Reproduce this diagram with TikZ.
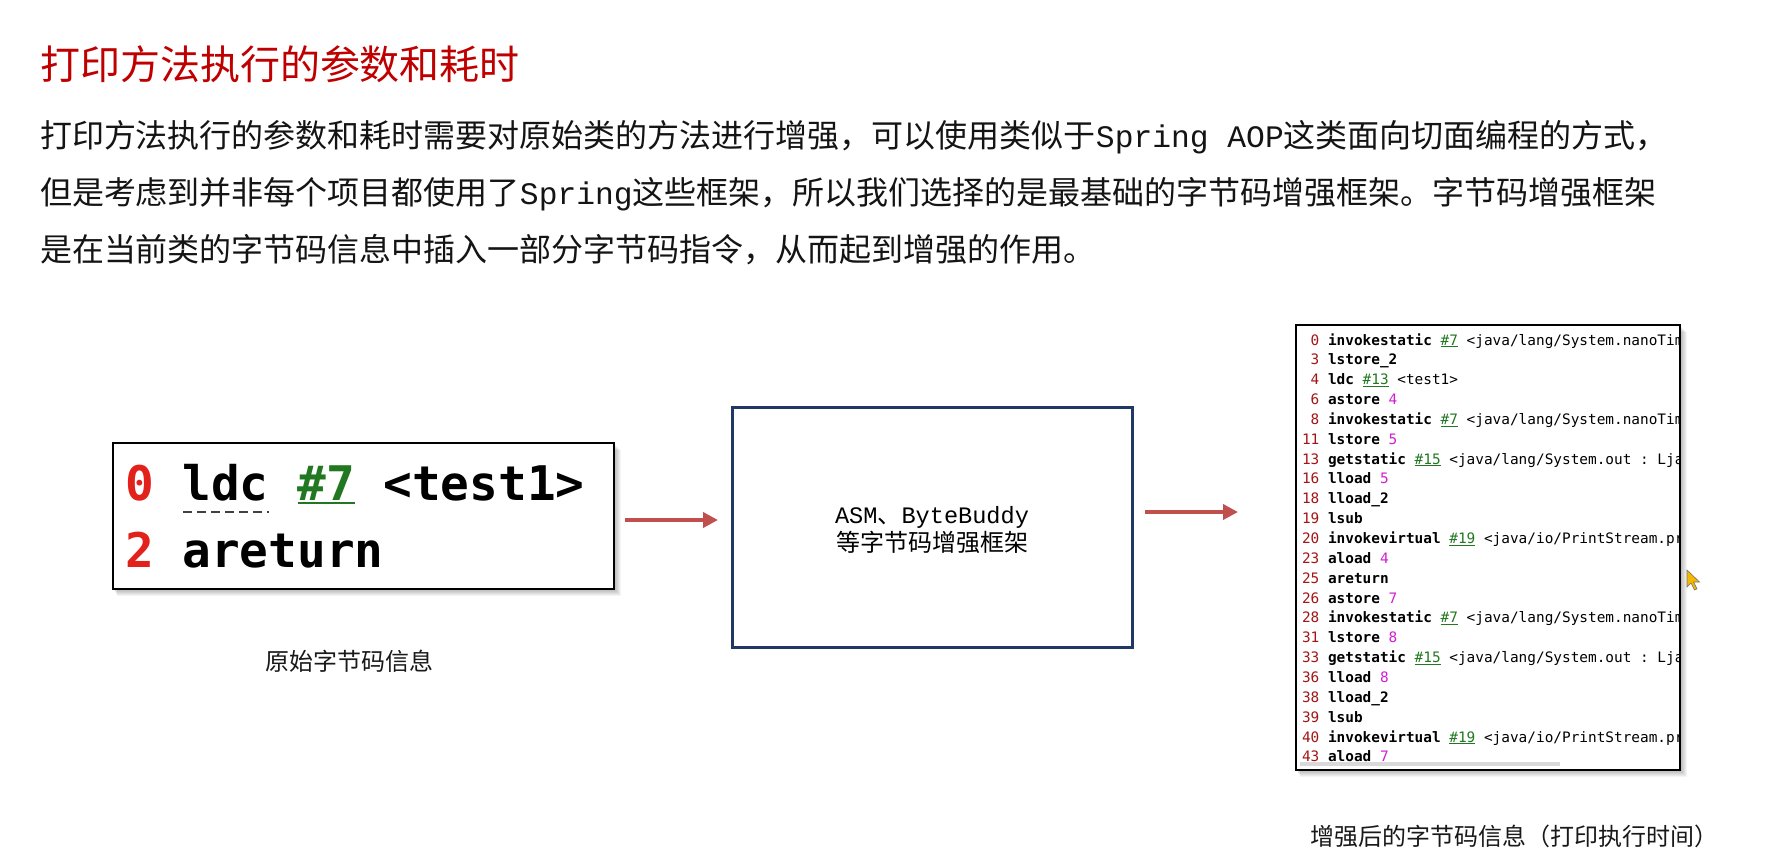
\documentclass[tikz,border=0pt]{standalone}
\usepackage{fontspec}
\setmainfont{Noto Sans CJK SC}
\newfontfamily\monof{Liberation Mono}
\newfontfamily\codef{DejaVu Sans Mono}
\usetikzlibrary{arrows.meta}
\definecolor{titlered}{HTML}{C00000}
\definecolor{arrowred}{HTML}{C0504D}
\definecolor{navy}{HTML}{1F3864}
\definecolor{numred}{HTML}{A31515}
\definecolor{zerored}{HTML}{E3211B}
\definecolor{hashgreen}{HTML}{217821}
\definecolor{opmag}{HTML}{D21DD2}
\definecolor{curyellow}{HTML}{F5B700}
\newcommand\nm[1]{\textcolor{numred}{#1}}
\newcommand\ins[1]{{\bfseries #1}}
\newcommand\rf[1]{\textcolor{hashgreen}{\setbox0=\hbox{\#{}#1}\rlap{\rule[-2.2pt]{\wd0}{1.1pt}}\box0}}
\newcommand\op[1]{\textcolor{opmag}{#1}}
\tikzset{
  body/.style={anchor=base west, text=black!92, font=\fontsize{32}{38}\selectfont},
  caption/.style={anchor=base west, text=black!90, font=\fontsize{24}{28}\selectfont},
  codeline/.style={anchor=base west, font=\codef\fontsize{14.4}{17}\selectfont},
  bigcode/.style={anchor=base west, font=\codef\bfseries\fontsize{47.7}{52}\selectfont},
  arr/.style={draw=arrowred, line width=4.5pt, -{Triangle[length=15pt,width=15pt]}},
}
\begin{document}
\begin{tikzpicture}[x=1pt,y=-1pt, every node/.style={inner sep=0pt, outer sep=0pt}]
\path[use as bounding box, fill=white] (0,0) rectangle (1773,855);

% title and paragraph
\node[anchor=base west, text=titlered, font=\fontsize{40}{48}\selectfont] (title) at (40,79) {打印方法执行的参数和耗时};
\node[body] (p1) at (40,147) {打印方法执行的参数和耗时需要对原始类的方法进行增强，可以使用类似于{\monof\fontsize{31.3}{38}\selectfont Spring AOP}这类面向切面编程的方式，};
\node[body] (p2) at (40,204) {但是考虑到并非每个项目都使用了{\monof\fontsize{31.3}{38}\selectfont Spring}这些框架，所以我们选择的是最基础的字节码增强框架。字节码增强框架};
\node[body] (p3) at (40,261) {是在当前类的字节码信息中插入一部分字节码指令，从而起到增强的作用。};

% left box (original bytecode)
\foreach \k in {1,...,7} {\fill[black, opacity=0.045] (113+\k*0.6,443+\k) rectangle (614+\k,589+\k);}
\node[draw=black, line width=2.5pt, fill=white, minimum width=501pt, minimum height=146pt] (orig) at (363.5,516) {};
\node[bigcode] (o1) at (125,500) {\textcolor{zerored}{0}~ldc~\textcolor{hashgreen}{\#7}~<test1>};
\node[bigcode] (o2) at (125,567) {\textcolor{zerored}{2}~areturn};
\draw[black!75, line width=2pt, dash pattern=on 9pt off 5pt] (o1.base west) ++(58,12) -- ++(86,0);
\draw[hashgreen, line width=2.6pt] (o1.base west) ++(173,3) -- ++(57,0);
\node[caption] (cap1) at (265,670) {原始字节码信息};

% middle box
\node[draw=navy, line width=3pt, fill=white, minimum width=400pt, minimum height=240pt] (asm) at (932,527) {};
\node[anchor=base, font=\fontsize{24}{28}\selectfont] (asm1) at (932,523) {{\monof\fontsize{23.6}{28}\selectfont ASM}、{\monof\fontsize{23.6}{28}\selectfont ByteBuddy}};
\node[anchor=base, font=\fontsize{24}{28}\selectfont] (asm2) at (932,551) {等字节码增强框架};

% right box (enhanced bytecode)
\foreach \k in {1,...,7} {\fill[black, opacity=0.045] (1296+\k*0.6,325+\k) rectangle (1680+\k,770+\k);}
\node[fill=white, minimum width=384pt, minimum height=445pt] (enh) at (1488,547.5) {};
\begin{scope}
\clip (1297,326) rectangle (1679,768);
\node[codeline] (c0) at (1302,345) {\nm{~0}~\ins{invokestatic}~\rf{7}~<java/lang/System.nanoTim};
\node[codeline] (c1) at (1302,364.85) {\nm{~3}~\ins{lstore\_2}};
\node[codeline] (c2) at (1302,384.7) {\nm{~4}~\ins{ldc}~\rf{13}~<test1>};
\node[codeline] (c3) at (1302,404.55) {\nm{~6}~\ins{astore}~\op{4}};
\node[codeline] (c4) at (1302,424.4) {\nm{~8}~\ins{invokestatic}~\rf{7}~<java/lang/System.nanoTim};
\node[codeline] (c5) at (1302,444.25) {\nm{11}~\ins{lstore}~\op{5}};
\node[codeline] (c6) at (1302,464.1) {\nm{13}~\ins{getstatic}~\rf{15}~<java/lang/System.out~:~Ljav};
\node[codeline] (c7) at (1302,483.95) {\nm{16}~\ins{lload}~\op{5}};
\node[codeline] (c8) at (1302,503.8) {\nm{18}~\ins{lload\_2}};
\node[codeline] (c9) at (1302,523.65) {\nm{19}~\ins{lsub}};
\node[codeline] (c10) at (1302,543.5) {\nm{20}~\ins{invokevirtual}~\rf{19}~<java/io/PrintStream.pri};
\node[codeline] (c11) at (1302,563.35) {\nm{23}~\ins{aload}~\op{4}};
\node[codeline] (c12) at (1302,583.2) {\nm{25}~\ins{areturn}};
\node[codeline] (c13) at (1302,603.05) {\nm{26}~\ins{astore}~\op{7}};
\node[codeline] (c14) at (1302,622.9) {\nm{28}~\ins{invokestatic}~\rf{7}~<java/lang/System.nanoTim};
\node[codeline] (c15) at (1302,642.75) {\nm{31}~\ins{lstore}~\op{8}};
\node[codeline] (c16) at (1302,662.6) {\nm{33}~\ins{getstatic}~\rf{15}~<java/lang/System.out~:~Ljav};
\node[codeline] (c17) at (1302,682.45) {\nm{36}~\ins{lload}~\op{8}};
\node[codeline] (c18) at (1302,702.3) {\nm{38}~\ins{lload\_2}};
\node[codeline] (c19) at (1302,722.15) {\nm{39}~\ins{lsub}};
\node[codeline] (c20) at (1302,742) {\nm{40}~\ins{invokevirtual}~\rf{19}~<java/io/PrintStream.pri};
\node[codeline] (c21) at (1302,761.85) {\nm{43}~\ins{aload}~\op{7}};
\fill[white] (1297,764) rectangle (1679,768);
\fill[black!15] (1300,762) rectangle (1560,766);
\end{scope}
\draw[black, line width=2.5pt] (enh.north west) rectangle (enh.south east);
\node[caption] (cap2) at (1310,845) {增强后的字节码信息（打印执行时间）};

% arrows
\draw[arr] ([xshift=11pt,yshift=-4pt]orig.east) -- ([xshift=-14pt,yshift=7pt]asm.west);
\draw[arr] ([xshift=13pt,yshift=15pt]asm.east) -- ([xshift=-58pt,yshift=35.5pt]enh.west);

% mouse cursor
\fill[curyellow, draw=black!55, line width=0.6pt] (1687,570) -- ++(0,17) -- ++(4,-4) -- ++(3.5,7) -- ++(2.5,-1.2) -- ++(-3.5,-6.8) -- ++(6,0) -- cycle;
\end{tikzpicture}
\end{document}
